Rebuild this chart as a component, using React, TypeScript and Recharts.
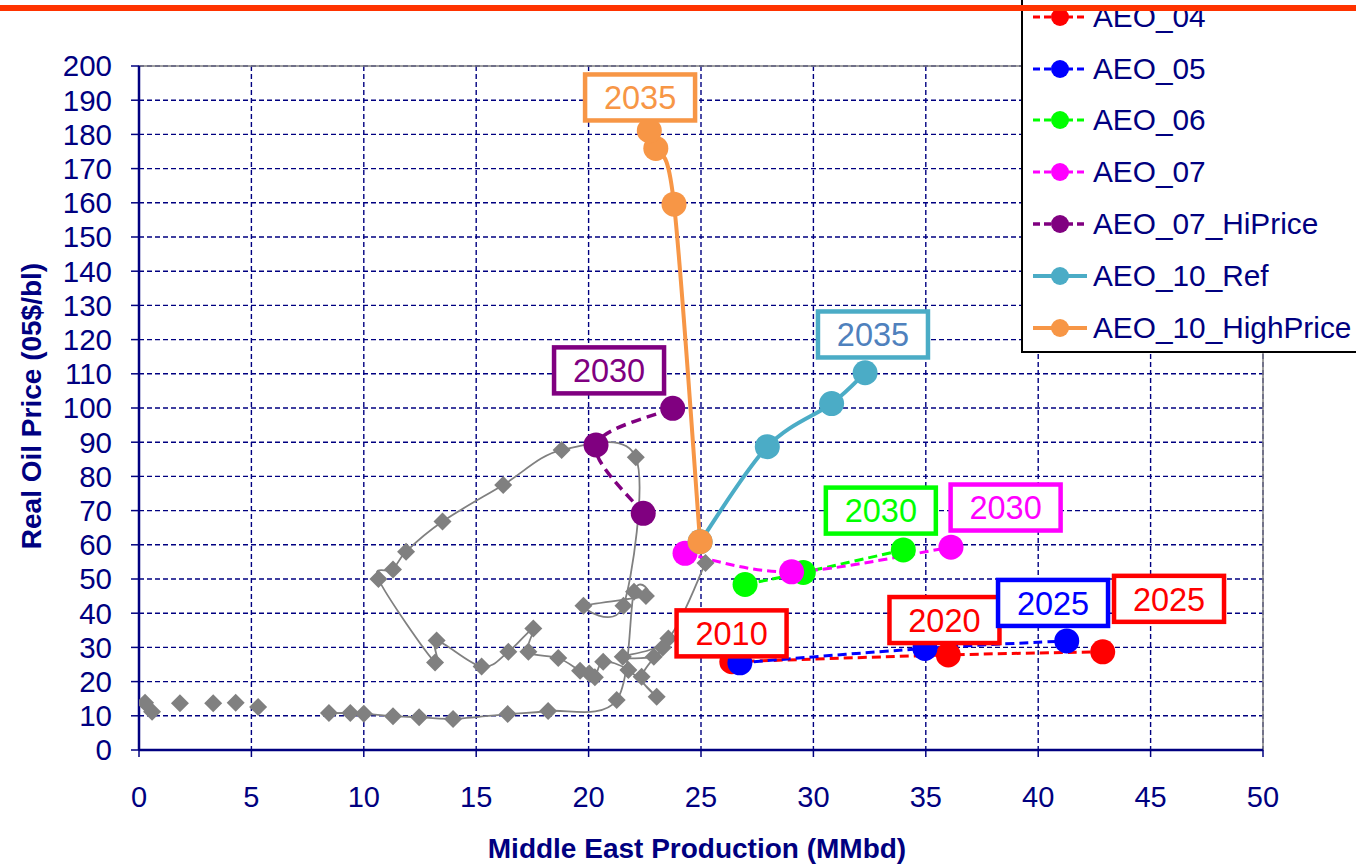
import React from 'react';
import {
  ComposedChart, Line, Scatter, XAxis, YAxis, CartesianGrid, ReferenceDot, ReferenceArea,
} from 'recharts';

// ---------- DATA ----------
const xTicks = [0, 5, 10, 15, 20, 25, 30, 35, 40, 45, 50];
const yTicks = [0, 10, 20, 30, 40, 50, 60, 70, 80, 90, 100, 110, 120, 130, 140, 150, 160, 170, 180, 190, 200];

// early historical points (not joined by a line)
const histEarly = [
  { x: 0.27, y: 13.8 }, { x: 0.58, y: 11.2 }, { x: 1.82, y: 13.7 }, { x: 3.3, y: 13.7 },
  { x: 4.3, y: 13.8 }, { x: 5.3, y: 12.6 },
];

// historical path (joined)
const histPath = [
  { x: 8.45, y: 10.8 }, { x: 9.4, y: 10.8 }, { x: 10.0, y: 10.6 }, { x: 11.3, y: 9.9 },
  { x: 12.46, y: 9.6 }, { x: 13.97, y: 9.1 }, { x: 16.4, y: 10.5 }, { x: 18.2, y: 11.4 },
  { x: 21.25, y: 14.6 }, { x: 22.02, y: 46.3 }, { x: 22.55, y: 45.0 }, { x: 19.77, y: 42.2 },
  { x: 21.55, y: 42.2 }, { x: 22.1, y: 85.6 }, { x: 18.8, y: 87.7 }, { x: 16.2, y: 77.5 },
  { x: 13.5, y: 66.8 }, { x: 11.88, y: 58.0 }, { x: 11.3, y: 52.8 }, { x: 10.65, y: 50.0 },
  { x: 13.17, y: 25.6 }, { x: 13.24, y: 32.0 }, { x: 15.24, y: 24.4 }, { x: 16.43, y: 28.7 },
  { x: 17.54, y: 35.5 }, { x: 17.32, y: 28.7 }, { x: 18.65, y: 26.9 }, { x: 19.62, y: 23.2 },
  { x: 20.03, y: 22.4 }, { x: 20.28, y: 21.3 }, { x: 20.65, y: 25.8 }, { x: 21.77, y: 23.4 },
  { x: 23.03, y: 15.6 }, { x: 22.36, y: 21.4 }, { x: 23.3, y: 30.0 }, { x: 22.9, y: 27.3 },
  { x: 21.52, y: 27.3 }, { x: 23.55, y: 32.6 }, { x: 25.2, y: 54.7 },
];

const aeo04 = [{ x: 26.37, y: 25.8 }, { x: 36.0, y: 27.8 }, { x: 42.87, y: 28.7 }];
const aeo05 = [{ x: 26.73, y: 25.5 }, { x: 34.96, y: 29.7 }, { x: 41.27, y: 31.9 }];
const aeo06 = [{ x: 26.96, y: 48.4 }, { x: 29.55, y: 51.9 }, { x: 34.0, y: 58.5 }];
const aeo07 = [{ x: 24.29, y: 57.5 }, { x: 29.03, y: 52.1 }, { x: 36.12, y: 59.3 }];
const aeo07Hi = [{ x: 22.43, y: 69.2 }, { x: 20.33, y: 89.2 }, { x: 23.74, y: 99.9 }];
const aeo10Ref = [{ x: 24.96, y: 60.9 }, { x: 27.95, y: 88.7 }, { x: 30.81, y: 101.3 }, { x: 32.3, y: 110.3 }];
const aeo10High = [{ x: 24.96, y: 60.9 }, { x: 23.8, y: 159.6 }, { x: 22.99, y: 175.9 }, { x: 22.7, y: 181.1 }];

const seriesNames = ['AEO_04', 'AEO_05', 'AEO_06', 'AEO_07', 'AEO_07_HiPrice', 'AEO_10_Ref', 'AEO_10_HighPrice'];
const seriesData = [aeo04, aeo05, aeo06, aeo07, aeo07Hi, aeo10Ref, aeo10High];

// year call-outs (anchored in data coordinates)
const yearLabels = [
  { text: '2035', series: 'AEO_10_HighPrice', x: 22.29, y: 190.8 },
  { text: '2035', series: 'AEO_10_Ref', x: 32.65, y: 121.5 },
  { text: '2030', series: 'AEO_07_HiPrice', x: 20.91, y: 111.0 },
  { text: '2030', series: 'AEO_06', x: 33.0, y: 70.0 },
  { text: '2030', series: 'AEO_07', x: 38.55, y: 70.9 },
  { text: '2010', series: 'AEO_04', x: 26.36, y: 34.1 },
  { text: '2020', series: 'AEO_04', x: 35.83, y: 38.0 },
  { text: '2025', series: 'AEO_05', x: 40.66, y: 43.0 },
  { text: '2025', series: 'AEO_04', x: 45.82, y: 44.2 },
];

// ---------- STYLES ----------
const FONT = '"Liberation Sans", Arial, Helvetica, sans-serif';
const NAVY = '#000080';
const GRAY = '#808080';

const seriesStyle: Record<string, any> = {
  AEO_04: { color: '#FF0000', dash: '9 5', width: 3, text: '#FF0000' },
  AEO_05: { color: '#0000FF', dash: '9 5', width: 3, text: '#0000FF' },
  AEO_06: { color: '#00FF00', dash: '9 5', width: 3, text: '#00FF00' },
  AEO_07: { color: '#FF00FF', dash: '9 5', width: 3, text: '#FF00FF' },
  AEO_07_HiPrice: { color: '#800080', dash: '10 6', width: 3.5, text: '#800080' },
  AEO_10_Ref: { color: '#4BACC6', dash: undefined, width: 4, text: '#4F81BD' },
  AEO_10_HighPrice: { color: '#F79646', dash: undefined, width: 4, text: '#F79646' },
};

// Excel-like smoothed line (Catmull-Rom through the points)
const smoothCurve = (context: any) => {
  let pts: number[][] = [];
  return {
    areaStart() {},
    areaEnd() {},
    lineStart() { pts = []; },
    point(x: number, y: number) { pts.push([+x, +y]); },
    lineEnd() {
      const n = pts.length;
      if (!n) return;
      context.moveTo(pts[0][0], pts[0][1]);
      const t = 1 / 6;
      for (let i = 0; i < n - 1; i++) {
        const p0 = pts[i - 1] || pts[i];
        const p1 = pts[i];
        const p2 = pts[i + 1];
        const p3 = pts[i + 2] || p2;
        context.bezierCurveTo(
          p1[0] + (p2[0] - p0[0]) * t, p1[1] + (p2[1] - p0[1]) * t,
          p2[0] - (p3[0] - p1[0]) * t, p2[1] - (p3[1] - p1[1]) * t,
          p2[0], p2[1],
        );
      }
    },
  };
};

const diamondPath = (cx: number, cy: number, s: number) =>
  `M${cx},${cy - s}L${cx + s},${cy}L${cx},${cy + s}L${cx - s},${cy}Z`;

const Diamond = (props: any) => {
  const { cx, cy, index } = props;
  if (cx == null || cy == null) return <g key={`d${index}`} />;
  return <path key={`d${index}`} d={diamondPath(cx, cy, 9)} fill={GRAY} />;
};

const makeDot = (color: string) => (props: any) => {
  const { cx, cy, index } = props;
  if (cx == null || cy == null) return <g key={`c${index}`} />;
  return <circle key={`c${index}`} cx={cx} cy={cy} r={12.5} fill={color} />;
};

const makeLabelShape = (text: string, st: any) => (props: any) => {
  const { cx, cy } = props;
  return (
    <g>
      <rect x={cx - 55} y={cy - 23} width={110} height={46} fill="#FFFFFF" stroke={st.color} strokeWidth={4.5} />
      <text x={cx} y={cy} dy="0.36em" textAnchor="middle" fill={st.text} fontSize={32.5} fontFamily={FONT}>{text}</text>
    </g>
  );
};

const XTitle = (props: any) => {
  const vb = props.viewBox || {};
  return (
    <text x={vb.x + vb.width / 2 - 4} y={vb.y + vb.height - 6} textAnchor="middle" fill={NAVY}
      fontSize={28} fontWeight="bold" fontFamily={FONT}>Middle East Production (MMbd)</text>
  );
};

const YTitle = (props: any) => {
  const vb = props.viewBox || {};
  const cx = 41;
  const cy = vb.y + vb.height / 2 - 2;
  return (
    <text x={cx} y={cy} transform={`rotate(-90 ${cx} ${cy})`} textAnchor="middle" fill={NAVY}
      fontSize={28} fontWeight="bold" fontFamily={FONT}>Real Oil Price (05$/bl)</text>
  );
};

const LegendBox = () => (
  <div style={{
    position: 'absolute', left: 1021, top: -35, width: 360, height: 388, boxSizing: 'border-box',
    border: '2px solid #000', background: '#FFFFFF', paddingTop: 24, fontFamily: FONT,
  }}>
    {seriesNames.map((name) => {
      const st = seriesStyle[name];
      return (
        <div key={name} style={{ height: 51.8, display: 'flex', alignItems: 'center' }}>
          <svg width={62} height={24} style={{ marginLeft: 8, flex: 'none' }}>
            <line x1={2} y1={12} x2={56} y2={12} stroke={st.color} strokeWidth={st.width}
              strokeDasharray={st.dash ? '7 4' : undefined} />
            <circle cx={29} cy={12} r={9} fill={st.color} />
          </svg>
          <span style={{ color: NAVY, fontSize: 29.8, lineHeight: '30px', whiteSpace: 'nowrap' }}>{name}</span>
        </div>
      );
    })}
  </div>
);

export default function App() {
  return (
    <div style={{ position: 'absolute', left: 0, top: 0, width: 1356, height: 864, overflow: 'hidden', background: '#FFFFFF' }}>
      <ComposedChart width={1356} height={864} margin={{ top: 66, right: 93, bottom: 0, left: 9 }}>
        <CartesianGrid stroke={NAVY} strokeDasharray="5 3" strokeWidth={1.4} />
        <ReferenceArea x1={0} x2={50} y1={0} y2={200} fill="none" stroke={GRAY} strokeWidth={1.5} />
        <XAxis type="number" dataKey="x" domain={[0, 50]} ticks={xTicks} interval={0} allowDataOverflow height={114}
          axisLine={{ stroke: NAVY, strokeWidth: 2.5 }} tickLine={{ stroke: NAVY, strokeWidth: 1.5 }}
          tickSize={7} tickMargin={29} tick={{ fill: NAVY, fontSize: 29, fontFamily: FONT }}
          label={<XTitle />} />
        <YAxis type="number" dataKey="y" domain={[0, 200]} ticks={yTicks} interval={0} allowDataOverflow width={130}
          axisLine={{ stroke: NAVY, strokeWidth: 2.5 }} tickLine={{ stroke: NAVY, strokeWidth: 1.5 }}
          tickSize={8} tickMargin={19} tick={{ fill: NAVY, fontSize: 29.5, fontFamily: FONT }}
          label={<YTitle />} />
        <Scatter name="Historical early" data={histEarly} shape={Diamond} isAnimationActive={false} />
        <Line name="Historical" data={histPath} dataKey="y" type={smoothCurve as any} stroke={GRAY}
          strokeWidth={1.8} dot={Diamond} activeDot={false} isAnimationActive={false} />
        {seriesNames.map((name, i) => {
          const st = seriesStyle[name];
          return (
            <Line key={name} name={name} data={seriesData[i]} dataKey="y" type={smoothCurve as any}
              stroke={st.color} strokeWidth={st.width} strokeDasharray={st.dash}
              dot={makeDot(st.color)} activeDot={false} isAnimationActive={false} />
          );
        })}
        {yearLabels.map((l, i) => (
          <ReferenceDot key={`lab${i}`} x={l.x} y={l.y} r={0} ifOverflow="visible"
            shape={makeLabelShape(l.text, seriesStyle[l.series])} />
        ))}
      </ComposedChart>
      <LegendBox />
      <div style={{ position: 'absolute', left: 0, top: 5, width: 1356, height: 6, background: '#FF3300' }} />
    </div>
  );
}
